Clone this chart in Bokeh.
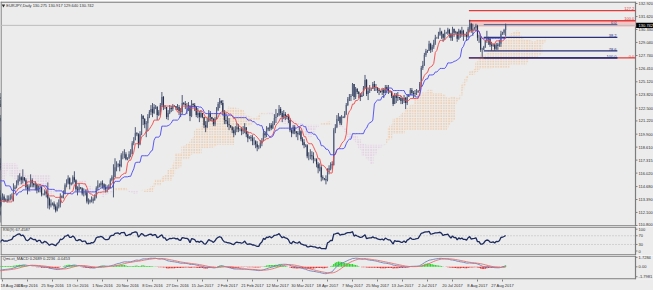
import numpy as np
import pandas as pd
from bokeh.plotting import figure
from bokeh.layouts import column
from bokeh.models import Range1d, FixedTicker, LinearAxis
from bokeh.embed import file_html
from bokeh.resources import INLINE
from bokeh.core.properties import value

# ---------------- data (EURJPY daily) ----------------
# bars before the visible window (only used to warm up the indicators)
pre_close = [
    122.8, 123.3,
    123.2, 122.9, 122.6, 123.2, 123.6, 123.4,
    123.5, 124.0, 123.4, 122.6, 122.9, 121.2,
    121.3, 121.6, 121.8, 121.5, 120.9, 120.3,
    120.1, 119.7, 118.8, 119.6, 117.2, 117.8,
    118.4, 119.0, 118.7, 118.9, 121.5, 113.5,
    112.9, 111.8, 113.0, 114.2, 114.3, 114.0,
    113.9, 113.2, 112.2, 111.9, 112.2, 111.1,
    111.5, 113.3, 115.4, 116.1, 116.3, 117.2,
    117.0, 116.9, 116.8, 117.5, 116.3, 116.7,
    116.5, 117.0, 115.9, 115.5, 114.7, 114.3,
    114.2, 114.1, 113.3, 113.1, 113.0, 112.7,
    112.6, 113.0, 113.5, 113.4, 113.8, 113.2,
    113.2, 113.2, 112.9, 113.4,
]
pre_high = [
    123.3, 123.6,
    123.4, 123.5, 123.1, 123.5, 124.0, 123.9,
    123.6, 124.4, 124.2, 123.6, 123.2, 123.2,
    121.4, 121.9, 122.3, 122.0, 121.7, 121.0,
    120.3, 120.4, 119.9, 120.0, 119.8, 118.0,
    118.5, 119.3, 119.2, 119.2, 122.0, 122.0,
    113.6, 113.6, 113.2, 114.5, 114.7, 114.6,
    114.1, 114.0, 113.4, 112.5, 112.5, 112.5,
    111.7, 113.5, 115.6, 116.3, 116.9, 117.5,
    117.3, 117.5, 117.1, 117.7, 118.2, 117.0,
    116.7, 117.2, 117.1, 116.3, 115.6, 116.3,
    114.4, 114.5, 114.3, 113.6, 113.4, 113.5,
    112.8, 113.3, 113.7, 113.7, 114.1, 113.9,
    113.3, 113.5, 113.4, 113.6,
]
pre_low = [
    122.2, 122.6,
    123.0, 122.4, 122.2, 122.5, 123.0, 123.0,
    123.2, 123.3, 123.0, 122.3, 122.3, 120.8,
    121.0, 121.0, 121.2, 121.1, 120.8, 120.0,
    119.9, 119.4, 118.6, 118.6, 116.9, 116.9,
    117.9, 118.3, 118.2, 118.5, 118.8, 109.6,
    112.2, 111.0, 111.6, 112.8, 113.8, 113.5,
    113.7, 112.9, 111.8, 111.2, 111.6, 110.6,
    111.2, 111.5, 113.1, 115.2, 115.5, 116.1,
    116.8, 116.6, 116.3, 116.6, 116.0, 115.8,
    116.4, 116.3, 115.7, 114.9, 114.5, 113.0,
    114.0, 113.8, 112.9, 112.5, 112.6, 112.4,
    112.5, 112.6, 112.9, 113.1, 113.3, 113.1,
    113.1, 112.9, 112.3, 112.7,
]

# visible bars: 18 Aug 2016 ... 29 Aug 2017 (one week per line, Sun..Fri)
close = [
    113.7, 113.3,
    113.4, 113.3, 113.5, 113.6, 113.7, 114.4,
    114.6, 115.0, 115.4, 115.6, 115.3, 115.6,
    115.3, 114.6, 114.4, 114.7, 115.3, 115.0,
    114.8, 114.9, 114.3, 114.6, 114.6, 113.9,
    113.9, 114.2, 114.0, 113.5, 112.8, 113.0,
    113.0, 112.7, 112.3, 112.7, 112.9, 113.7,
    113.6, 114.0, 114.8, 115.0, 115.5, 114.9,
    115.0, 115.6, 115.3, 114.4, 114.3, 114.6,
    114.5, 114.0, 114.1, 114.1, 113.2, 113.3,
    113.2, 113.4, 113.3, 113.6, 114.5, 114.8,
    114.8, 115.0, 114.9, 114.6, 114.4, 114.4,
    114.5, 115.3, 115.6, 115.6, 116.6, 116.8,
    116.9, 116.7, 117.8, 117.8, 117.9, 117.4,
    117.5, 117.9, 117.9, 119.0, 119.3, 120.0,
    119.9, 118.9, 119.9, 121.7, 121.4, 120.9,
    121.0, 121.6, 122.1, 122.4, 122.0, 122.6,
    122.6, 121.8, 122.1, 122.8, 123.6, 122.6,
    122.6, 121.6, 122.0, 122.5, 122.4, 122.7,
    122.7, 122.5, 122.6, 122.2, 122.1, 123.0,
    122.9, 122.8, 122.8, 122.6, 121.7, 122.9,
    122.8, 122.6, 121.8, 122.0, 121.6, 122.0,
    121.6, 120.8, 120.6, 121.2, 122.0, 121.6,
    121.4, 120.9, 121.4, 122.3, 122.9, 123.2,
    123.0, 122.1, 121.3, 121.2, 120.9, 120.8,
    120.6, 120.3, 120.0, 120.4, 120.6, 120.4,
    120.4, 120.2, 120.3, 120.6, 119.9, 119.5,
    119.6, 119.5, 119.2, 119.2, 118.9, 118.6,
    118.6, 119.0, 119.2, 120.0, 119.8, 120.5,
    120.4, 120.8, 120.5, 120.9, 121.5, 121.6,
    121.8, 122.4, 122.0, 121.6, 121.9, 121.7,
    121.6, 121.3, 120.3, 120.0, 120.6, 120.2,
    120.0, 119.9, 120.2, 119.4, 119.1, 118.8,
    118.8, 117.7, 117.7, 117.8, 117.7, 117.4,
    117.4, 116.9, 116.5, 116.6, 115.6, 115.5,
    115.4, 115.3, 116.3, 116.5, 116.9, 116.8,
    120.3, 120.6, 121.4, 121.6, 121.0, 121.5,
    121.6, 121.9, 122.8, 123.4, 123.6, 123.7,
    124.9, 123.6, 124.4, 124.1, 123.9, 123.6,
    123.8, 124.5, 125.3, 123.9, 124.2, 124.4,
    124.4, 124.9, 124.6, 124.6, 124.3, 124.2,
    124.1, 124.3, 124.0, 124.6, 124.4, 124.2,
    124.2, 123.7, 122.9, 123.8, 123.5, 123.6,
    123.5, 123.2, 123.2, 123.5, 123.0, 123.6,
    123.8, 124.3, 124.0, 123.9, 124.0, 124.1,
    124.2, 124.9, 126.5, 126.8, 127.8, 128.2,
    128.2, 128.9, 128.3, 128.6, 129.0, 129.5,
    129.5, 129.8, 130.1, 129.9, 129.5, 130.0,
    130.0, 130.3, 129.9, 129.5, 130.4, 130.0,
    130.1, 129.4, 130.2, 129.9, 130.2, 129.8,
    129.8, 129.6, 130.4, 130.9, 130.2, 130.4,
    130.5, 130.7, 129.5, 129.5, 128.3, 128.3,
    128.6, 129.2, 129.5, 129.4, 128.8, 128.7,
    128.8, 128.4, 128.8, 128.7, 128.9, 129.9,
    130.0, 130.275, 130.742,
]
high = [
    114.0, 113.9,
    113.5, 113.8, 113.8, 113.9, 114.0, 115.0,
    114.8, 115.3, 115.8, 116.0, 115.7, 116.4,
    115.5, 115.5, 114.9, 114.9, 115.9, 115.5,
    115.0, 115.2, 114.9, 114.8, 114.9, 114.7,
    114.0, 114.4, 114.3, 115.1, 113.6, 113.4,
    113.1, 113.2, 112.9, 113.1, 113.4, 114.0,
    113.8, 114.3, 115.0, 115.4, 115.8, 115.6,
    115.1, 115.8, 116.2, 115.4, 114.7, 115.0,
    114.6, 114.6, 114.5, 114.4, 114.4, 113.5,
    113.4, 113.7, 113.6, 113.9, 114.7, 115.3,
    115.0, 115.2, 115.3, 115.0, 114.9, 114.8,
    114.9, 115.5, 115.8, 116.9, 117.5, 117.2,
    117.0, 117.3, 118.0, 118.2, 118.4, 118.1,
    117.6, 118.2, 118.4, 119.2, 119.6, 120.6,
    120.1, 120.0, 120.2, 121.9, 121.8, 121.5,
    121.2, 121.9, 122.3, 122.8, 123.0, 122.9,
    122.8, 122.7, 122.3, 123.0, 124.1, 123.7,
    122.8, 122.6, 122.3, 122.8, 122.7, 122.9,
    122.8, 122.7, 122.9, 122.8, 122.5, 123.8,
    123.1, 123.2, 123.0, 123.1, 122.8, 123.3,
    123.0, 123.0, 122.7, 122.5, 122.2, 122.3,
    121.8, 121.5, 121.2, 121.5, 122.3, 122.2,
    121.6, 121.5, 121.6, 122.6, 123.1, 123.5,
    123.3, 123.3, 122.3, 122.0, 121.7, 121.5,
    120.8, 120.7, 120.6, 120.7, 121.0, 120.9,
    120.5, 120.6, 120.7, 121.0, 120.6, 120.2,
    119.7, 119.8, 119.8, 119.6, 119.3, 119.2,
    118.8, 119.3, 119.5, 120.4, 120.2, 120.7,
    120.6, 121.0, 121.0, 121.2, 121.9, 122.4,
    122.0, 122.8, 122.6, 122.2, 122.3, 122.1,
    121.8, 121.9, 121.5, 120.5, 120.8, 120.8,
    120.1, 120.2, 120.6, 120.3, 119.6, 119.4,
    118.9, 118.9, 118.1, 118.4, 118.2, 118.1,
    117.5, 117.5, 117.1, 117.0, 116.8, 115.8,
    115.5, 115.8, 116.5, 116.8, 117.1, 117.2,
    120.5, 120.9, 121.8, 122.0, 121.7, 121.8,
    121.7, 122.2, 123.0, 123.6, 123.9, 123.9,
    125.0, 124.9, 124.6, 124.5, 124.2, 124.0,
    124.0, 124.7, 125.8, 125.4, 124.5, 124.8,
    124.5, 125.1, 125.2, 124.9, 124.6, 124.5,
    124.2, 124.4, 124.5, 124.8, 124.8, 124.8,
    124.3, 124.1, 123.8, 124.0, 124.0, 124.1,
    123.6, 123.7, 123.5, 123.8, 123.6, 123.9,
    123.9, 124.5, 124.5, 124.2, 124.3, 124.4,
    124.3, 125.1, 126.7, 127.2, 128.0, 128.4,
    128.3, 129.2, 129.0, 128.8, 129.3, 129.8,
    129.6, 130.1, 130.5, 130.2, 129.9, 130.3,
    130.1, 130.5, 130.4, 130.0, 130.6, 130.4,
    130.2, 130.1, 130.4, 130.3, 130.6, 130.3,
    129.9, 130.1, 130.6, 131.3, 131.0, 130.9,
    130.6, 130.9, 130.8, 129.8, 129.7, 128.5,
    128.7, 129.3, 130.2, 129.6, 129.5, 129.1,
    128.9, 128.9, 129.0, 129.0, 129.3, 130.2,
    130.1, 130.4, 130.917,
]
low = [
    113.3, 113.1,
    113.2, 113.1, 113.2, 113.3, 113.4, 113.2,
    114.4, 114.5, 114.8, 115.2, 114.9, 115.0,
    115.2, 114.4, 113.9, 114.2, 114.6, 114.6,
    114.6, 114.3, 114.0, 114.1, 114.1, 113.7,
    113.8, 113.8, 113.6, 112.5, 112.4, 112.6,
    112.8, 112.4, 112.1, 112.2, 112.5, 112.6,
    113.5, 113.5, 113.9, 114.6, 114.9, 114.4,
    114.8, 114.9, 115.1, 114.2, 113.8, 114.2,
    114.4, 113.8, 113.7, 113.8, 113.0, 112.9,
    113.0, 113.1, 113.0, 113.3, 113.5, 114.3,
    114.6, 114.6, 114.5, 114.3, 114.1, 114.1,
    114.4, 114.7, 115.2, 113.6, 115.9, 116.2,
    116.6, 116.2, 116.6, 117.4, 117.5, 117.3,
    117.3, 117.4, 117.6, 117.9, 118.8, 119.3,
    119.7, 118.5, 118.8, 119.8, 120.8, 120.5,
    119.6, 120.2, 121.5, 121.8, 121.6, 121.9,
    122.4, 121.3, 121.7, 121.8, 122.6, 122.3,
    122.4, 121.4, 121.3, 121.9, 122.1, 122.2,
    122.6, 122.3, 122.3, 121.8, 121.6, 121.9,
    122.8, 122.4, 121.9, 122.2, 121.2, 121.6,
    122.6, 122.2, 121.6, 121.5, 121.1, 121.5,
    121.5, 120.5, 120.1, 120.5, 121.1, 121.2,
    121.2, 120.7, 120.7, 121.4, 122.2, 122.5,
    122.8, 121.8, 120.9, 120.9, 120.6, 120.3,
    120.5, 120.0, 119.6, 119.8, 120.1, 120.1,
    120.2, 119.8, 119.9, 120.0, 119.6, 119.1,
    119.4, 119.2, 118.8, 118.8, 118.5, 118.2,
    118.4, 118.5, 118.7, 119.2, 119.5, 119.6,
    120.2, 120.2, 120.3, 120.4, 120.8, 121.0,
    121.6, 121.7, 121.8, 121.1, 121.4, 121.3,
    121.4, 121.0, 120.1, 119.6, 119.9, 119.9,
    119.6, 119.3, 119.8, 119.2, 118.8, 118.5,
    118.6, 117.5, 117.3, 117.4, 117.3, 117.0,
    117.2, 116.6, 116.0, 116.2, 115.2, 115.3,
    115.3, 114.9, 115.2, 115.9, 116.3, 116.4,
    119.8, 120.0, 120.5, 121.2, 120.8, 120.8,
    121.5, 121.5, 121.8, 122.7, 123.2, 123.2,
    124.0, 123.3, 123.4, 123.9, 123.5, 123.2,
    123.6, 123.7, 124.4, 123.7, 123.3, 124.0,
    124.2, 124.4, 124.2, 124.2, 124.0, 123.8,
    124.0, 123.8, 123.5, 124.0, 124.0, 123.9,
    124.0, 123.5, 122.7, 122.9, 123.0, 123.2,
    123.3, 122.9, 122.9, 123.0, 122.4, 122.8,
    123.6, 123.8, 123.8, 123.5, 123.7, 123.8,
    124.0, 124.2, 124.6, 126.3, 126.7, 127.6,
    128.0, 128.2, 128.0, 128.1, 128.4, 128.8,
    129.4, 129.4, 129.7, 129.4, 129.1, 129.3,
    129.9, 129.8, 129.5, 129.2, 129.2, 129.6,
    129.9, 129.1, 129.3, 129.5, 129.6, 129.2,
    129.6, 129.2, 129.5, 130.1, 130.0, 129.7,
    130.3, 130.2, 129.2, 129.0, 128.1, 127.6,
    128.4, 128.5, 129.0, 128.8, 128.6, 128.2,
    128.6, 128.2, 128.3, 128.3, 128.6, 128.6,
    129.8, 129.8, 129.640,
]

date_tick_bars = [0, 16, 32, 48, 64, 80, 96, 112, 128, 144, 160,
                  176, 192, 208, 224, 240, 256, 272, 288, 304, 320]
date_labels = ["18 Aug 2016", "6 Sep 2016", "25 Sep 2016", "13 Oct 2016",
               "1 Nov 2016", "20 Nov 2016", "8 Dec 2016", "27 Dec 2016",
               "15 Jan 2017", "2 Feb 2017", "21 Feb 2017", "12 Mar 2017",
               "30 Mar 2017", "18 Apr 2017", "7 May 2017", "25 May 2017",
               "13 Jun 2017", "2 Jul 2017", "20 Jul 2017", "8 Aug 2017",
               "27 Aug 2017"]
price_ticks = ["110.800", "112.100", "113.390", "114.680", "116.020", "117.315",
               "118.610", "119.900", "121.220", "122.500", "123.820", "125.120",
               "126.410", "127.740", "129.040", "130.330", "131.620", "132.920"]
rsi_ticks = ["100", "70", "30", "0"]
rsi_levels = [70, 30]
macd_ticks = ["1.7284", "0.00", "-1.7981"]

bid_price = 130.742
bid_text = "130.742"
title_text = "EURJPY,Daily  130.275 130.917 129.640 130.742"
rsi_title = "RSI(9) 67.4587"
macd_title = "Qmi-ct_MACD 0.2689 0.2236 -0.0453"

# Fibonacci tools drawn on the chart
fib_blue_levels = [0.0, 38.2, 78.6, 100.0]
fib_blue_price0, fib_blue_price100 = 130.80, 127.50
fib_blue_bar0, fib_blue_bar1 = 308.0, 393.5
fib_red_levels = [0.0, 100.0, 127.2]
fib_red_price0, fib_red_price100 = 127.50, 131.20
fib_red_bar0 = 298.5
box_prices = [130.60, 131.20]

# ---------------- derived series ----------------
C = np.array(pre_close + close, dtype=float)
H = np.array(pre_high + high, dtype=float)
L = np.array(pre_low + low, dtype=float)
assert len(C) == len(H) == len(L), (len(C), len(H), len(L))
n_pre = len(pre_close)
idx = np.arange(len(C)) - n_pre
O = np.concatenate([[C[0]], C[:-1]])
H = np.maximum(H, np.maximum(O, C))
L = np.minimum(L, np.minimum(O, C))

Hs, Ls, Cs = pd.Series(H), pd.Series(L), pd.Series(C)
tenkan = ((Hs.rolling(9).max() + Ls.rolling(9).min()) / 2).values
kijun = ((Hs.rolling(26).max() + Ls.rolling(26).min()) / 2).values
spanA = (tenkan + kijun) / 2
spanB = ((Hs.rolling(52).max() + Ls.rolling(52).min()) / 2).values

delta = np.diff(C, prepend=C[0])
gain = pd.Series(np.clip(delta, 0, None)).ewm(alpha=1 / 9, adjust=False).mean()
loss = pd.Series(np.clip(-delta, 0, None)).ewm(alpha=1 / 9, adjust=False).mean()
rsi = (100 - 100 / (1 + gain / loss)).values

ema12 = Cs.ewm(span=12, adjust=False).mean()
ema26 = Cs.ewm(span=26, adjust=False).mean()
macd = (ema12 - ema26).values
signal = pd.Series(macd).rolling(9).mean().values
hist = macd - signal

# ---------------- styling / geometry ----------------
BG = "#ececec"
FONT = "Liberation Sans"
FS = "4px"
TXT = "#303030"
FRAME = "#7c7c7c"
W = 653
PX_PER_BAR = 1.5625
X0 = -1.28
X_AX = X0 + 635 / PX_PER_BAR          # right edge of the chart area (price scale line)
X_END = X0 + W / PX_PER_BAR
TICK = 2 / PX_PER_BAR
XR = Range1d(X0, X_END)


def panel(height, y_lo, y_hi, top=0, bottom=0):
    f = figure(width=W, height=height, x_range=XR, y_range=Range1d(y_lo, y_hi),
               output_backend="svg", toolbar_location=None,
               x_axis_location=None, y_axis_location=None,
               min_border_left=0, min_border_right=0,
               min_border_top=top, min_border_bottom=bottom,
               background_fill_color=BG, border_fill_color=BG,
               outline_line_color=None)
    f.grid.visible = False
    frame_h = height - top - bottom
    upp = (y_hi - y_lo) / frame_h            # value per pixel

    def ypx(px):                              # px measured down from frame top
        return y_hi - px * upp

    # frame: left edge, top, bottom, scale line
    f.segment(x0=[X0 + 0.35, X0, X0, X_AX], x1=[X0 + 0.35, X_AX, X_AX, X_AX],
              y0=[y_lo, ypx(0.6), ypx(frame_h - 0.6), y_lo],
              y1=[y_hi, ypx(0.6), ypx(frame_h - 0.6), y_hi],
              line_color=FRAME, line_width=1.2)
    return f, ypx, upp


def scale(f, labels, ypos=None):
    vals = [float(s) for s in labels]
    ys = vals if ypos is None else ypos
    f.segment(x0=[X_AX] * len(vals), x1=[X_AX + TICK] * len(vals), y0=vals, y1=vals,
              line_color="#808080", line_width=1)
    f.text(x=[X_AX + TICK + 0.7] * len(vals), y=ys, text=labels,
           text_align="left", text_baseline="middle", text_font=value(FONT),
           text_font_size=FS, text_color=TXT)


# ---------------- main price chart ----------------
p, pypx, pupp = panel(226, 110.70, 133.12, top=1)

# Ichimoku cloud (senkou spans shifted 26 bars ahead)
valid = ~np.isnan(spanA) & ~np.isnan(spanB)
cx = (idx + 26)[valid]
a = spanA[valid]
b = spanB[valid]
up = a >= b
p.vbar(x=cx[up], bottom=b[up], top=a[up], width=1.0, fill_alpha=0,
       line_color=None, hatch_pattern="dot", hatch_color="#f4a460",
       hatch_scale=2.6, hatch_weight=1.0, hatch_alpha=0.9)
p.vbar(x=cx[~up], bottom=a[~up], top=b[~up], width=1.0, fill_alpha=0,
       line_color=None, hatch_pattern="dot", hatch_color="#d8a8d8",
       hatch_scale=2.6, hatch_weight=1.0, hatch_alpha=0.9)

# fib box and lines
p.quad(left=fib_red_bar0, right=X_AX, bottom=box_prices[0], top=box_prices[1],
       fill_color="#f6c4c4", line_color=None)
red_prices = [fib_red_price0 + (fib_red_price100 - fib_red_price0) * lv / 100 for lv in fib_red_levels]
p.segment(x0=[fib_red_bar0] * len(red_prices), x1=[X_AX] * len(red_prices),
          y0=red_prices, y1=red_prices, line_color="#e03c3c", line_width=1.3)
p.text(x=[X_AX - 0.8] * len(red_prices), y=red_prices,
       text=["%.1f" % lv for lv in fib_red_levels], text_align="right",
       text_baseline="bottom", text_font=value(FONT), text_font_size=FS,
       text_color="#e03c3c", y_offset=-0.3)

blue_prices = [fib_blue_price0 + (fib_blue_price100 - fib_blue_price0) * lv / 100 for lv in fib_blue_levels]
p.segment(x0=[fib_blue_bar0] * len(blue_prices), x1=[fib_blue_bar1] * len(blue_prices),
          y0=blue_prices, y1=blue_prices, line_color="#28307a", line_width=1.3)
p.segment(x0=[fib_red_bar0], x1=[fib_blue_bar1], y0=[blue_prices[-1]], y1=[blue_prices[-1]],
          line_color="#28307a", line_width=1.3)
p.text(x=[fib_blue_bar1 - 0.5] * len(blue_prices), y=blue_prices,
       text=["%.1f" % lv for lv in fib_blue_levels], text_align="right",
       text_baseline="bottom", text_font=value(FONT), text_font_size=FS,
       text_color="#28307a", y_offset=-0.3)

# bid line
p.segment(x0=[X0], x1=[X_AX], y0=[bid_price], y1=[bid_price], line_color="#bcbcbc", line_width=1)

# candles
bull = C >= O
p.segment(x0=idx, x1=idx, y0=L, y1=H, line_color="#3c4766", line_width=0.9)
p.vbar(x=idx[bull], bottom=O[bull], top=C[bull], width=0.75,
       fill_color="#56627f", line_color=None)
p.vbar(x=idx[~bull], bottom=C[~bull], top=O[~bull], width=0.75,
       fill_color="#26304d", line_color=None)

# Tenkan / Kijun
m = ~np.isnan(tenkan)
p.line(idx[m], tenkan[m], line_color="#f04848", line_width=0.9)
m = ~np.isnan(kijun)
p.line(idx[m], kijun[m], line_color="#4a4af0", line_width=0.9)

# price scale (lowest label lifted so it stays inside the panel)
pt = [float(s) for s in price_ticks]
ply = [max(v, pypx(222.5)) for v in pt]
scale(p, price_ticks, ply)
p.quad(left=[X_AX + 0.4], right=[X_END], bottom=[bid_price - 2.6 * pupp],
       top=[bid_price + 2.6 * pupp], fill_color="black", line_color=None)
p.text(x=[X_AX + TICK + 0.7], y=[bid_price], text=[bid_text],
       text_align="left", text_baseline="middle", text_font=value(FONT),
       text_font_size=FS, text_color="white")

# title
p.scatter(x=[0.6], y=[pypx(4)], marker="inverted_triangle", size=3.5,
          fill_color="#303030", line_color=None)
p.text(x=[2.4], y=[pypx(4)], text=[title_text], text_font=value(FONT),
       text_font_size=FS, text_color=TXT, text_baseline="middle")

# ---------------- RSI ----------------
r, rypx, rupp = panel(29, -20.6, 112.4)
r.segment(x0=[X0] * len(rsi_levels), x1=[X_AX] * len(rsi_levels),
          y0=rsi_levels, y1=rsi_levels, line_color="#a8a8a8",
          line_width=0.8, line_dash="1 2")
m = idx >= -5
r.line(idx[m], rsi[m], line_color="#1c2a5e", line_width=1.3)
r.text(x=[0.2], y=[rypx(3.3)], text=[rsi_title], text_font=value(FONT),
       text_font_size=FS, text_color=TXT, text_baseline="middle")
rv = [float(s) for s in rsi_ticks]
scale(r, rsi_ticks, [min(max(v, rypx(26.5)), rypx(2.5)) for v in rv])

# ---------------- MACD ----------------
q, qypx, qupp = panel(35, -2.302, 2.064, bottom=9)
m = (idx >= -5) & ~np.isnan(hist)
hx, hv = idx[m], hist[m]
pos = hv >= 0
q.vbar(x=hx[pos], bottom=0, top=hv[pos], width=0.8, fill_color="#22d622", line_color=None)
q.vbar(x=hx[~pos], bottom=hv[~pos], top=0, width=0.8, fill_color="#ee2a2a", line_color=None)
q.line(idx[m], macd[m], line_color="#7080b8", line_width=0.9)
q.line(idx[m], signal[m], line_color="#e07070", line_width=0.9)
q.text(x=[0.2], y=[qypx(3.3)], text=[macd_title], text_font=value(FONT),
       text_font_size=FS, text_color=TXT, text_baseline="middle")
scale(q, macd_ticks)

xa = LinearAxis(ticker=FixedTicker(ticks=[float(t) for t in date_tick_bars]),
                major_label_overrides={float(t): s for t, s in zip(date_tick_bars, date_labels)})
xa.axis_line_color = None
xa.major_tick_out = 2
xa.major_tick_in = 0
xa.minor_tick_line_color = None
xa.major_tick_line_color = "#808080"
xa.major_label_standoff = 1
xa.major_label_text_font = FONT
xa.major_label_text_font_size = FS
xa.major_label_text_color = TXT
xa.major_label_text_align = "left"
q.add_layout(xa, "below")

layout = column(p, r, q, spacing=0)
open("out.html", "w").write(file_html(layout, INLINE))
